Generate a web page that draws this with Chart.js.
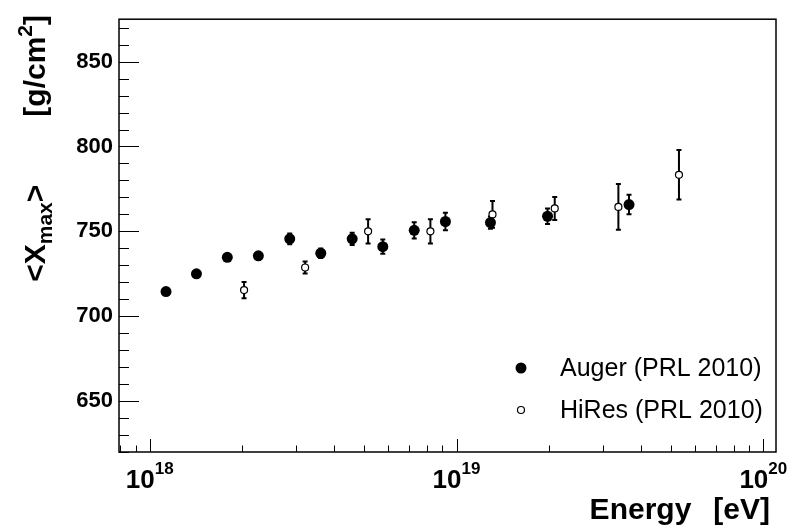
<!DOCTYPE html>
<html><head><meta charset="utf-8">
<script src="https://cdn.jsdelivr.net/npm/chart.js@4/dist/chart.umd.min.js"></script>
<style>html,body{margin:0;padding:0;background:#fff}</style>
</head><body>
<canvas id="c" width="799" height="530" style="display:block"></canvas>
<script>
// ---- data ----
const augerEnergy = [1.13e18, 1.42e18, 1.79e18, 2.26e18, 2.86e18, 3.61e18, 4.57e18, 5.75e18, 7.28e18, 9.2e18, 1.29e19, 1.98e19, 3.65e19];
const augerXmax   = [714.5, 725.0, 734.7, 735.6, 745.6, 737.1, 745.6, 741.0, 750.6, 755.8, 755.2, 758.9, 765.8];
const augerErr    = [1.8, 1.7, 1.8, 2.0, 3.2, 2.8, 3.6, 4.2, 4.8, 5.2, 3.6, 4.5, 5.7];
const hiresEnergy = [2.03e18, 3.21e18, 5.15e18, 8.22e18, 1.31e19, 2.09e19, 3.37e19, 5.31e19];
const hiresXmax   = [715.4, 728.7, 750.0, 750.0, 760.0, 763.5, 764.4, 783.3];
const hiresErr    = [4.8, 3.6, 7.1, 7.1, 7.9, 6.8, 13.5, 14.6];
const xDecadeExponents = [18, 19, 20];
const xMinorMantissas = [2, 3, 4, 5, 6, 7, 8, 9];
const yMajorStep = 50;
const yMinorStep = 10;
const legendLabels = ['Auger (PRL 2010)', 'HiRes (PRL 2010)'];
const xTitle = ['Energy', '[eV]'];
const yTitle = {main: '<X', sub: 'max', close: '>', unit: '[g/cm', sup: '2', unitClose: ']'};

const FONT = '"Liberation Sans", Arial, Helvetica, sans-serif';

function drawErrors(chart, dsIndex, errs) {
  const ctx = chart.ctx, y = chart.scales.y;
  const meta = chart.getDatasetMeta(dsIndex);
  const vals = chart.data.datasets[dsIndex].data;
  ctx.save();
  ctx.strokeStyle = '#000';
  ctx.lineWidth = 2;
  meta.data.forEach((pt, i) => {
    const v = vals[i].y, e = errs[i];
    const top = y.getPixelForValue(v + e), bot = y.getPixelForValue(v - e);
    ctx.beginPath();
    ctx.moveTo(pt.x, top); ctx.lineTo(pt.x, bot);
    ctx.moveTo(pt.x - 2.5, top); ctx.lineTo(pt.x + 2.5, top);
    ctx.moveTo(pt.x - 2.5, bot); ctx.lineTo(pt.x + 2.5, bot);
    ctx.stroke();
  });
  ctx.restore();
}

const rootPlugin = {
  id: 'rootStyle',
  beforeDatasetsDraw(chart) {
    const {ctx, chartArea: a, scales: {x, y}} = chart;
    ctx.save();
    ctx.strokeStyle = '#000';
    ctx.lineWidth = 1;
    // y ticks (inside the frame)
    for (let v = Math.ceil(y.min / yMinorStep) * yMinorStep; v <= y.max; v += yMinorStep) {
      const py = Math.round(y.getPixelForValue(v)) + 0.5;
      const len = (v % yMajorStep === 0) ? 20 : 10;
      ctx.beginPath(); ctx.moveTo(a.left, py); ctx.lineTo(a.left + len, py); ctx.stroke();
    }
    // x ticks (inside the frame)
    const eMin = Math.floor(Math.log10(x.min)), eMax = Math.ceil(Math.log10(x.max));
    for (let e = eMin; e <= eMax; e++) {
      [1].concat(xMinorMantissas).forEach(m => {
        const v = m * Math.pow(10, e);
        if (v < x.min || v > x.max) return;
        const px = Math.round(x.getPixelForValue(v)) + 0.5;
        const len = m === 1 ? 13 : 6.5;
        ctx.beginPath(); ctx.moveTo(px, a.bottom); ctx.lineTo(px, a.bottom - len); ctx.stroke();
      });
    }
    ctx.restore();
    drawErrors(chart, 1, hiresErr);
    drawErrors(chart, 0, augerErr);
  },
  afterDraw(chart) {
    const {ctx, chartArea: a, scales: {x}} = chart;
    ctx.save();
    // frame
    ctx.strokeStyle = '#000';
    ctx.lineWidth = 1.5;
    ctx.strokeRect(a.left, a.top, a.right - a.left, a.bottom - a.top);

    ctx.fillStyle = '#000';
    // x tick labels 10^n
    xDecadeExponents.forEach(e => {
      const px = x.getPixelForValue(Math.pow(10, e));
      ctx.font = 'bold 26px ' + FONT;
      const wBase = ctx.measureText('10').width;
      ctx.font = 'bold 17px ' + FONT;
      const wExp = ctx.measureText(String(e)).width;
      const start = px - (wBase + wExp) / 2;
      ctx.textAlign = 'left'; ctx.textBaseline = 'alphabetic';
      ctx.font = 'bold 26px ' + FONT;
      ctx.fillText('10', start, 488);
      ctx.font = 'bold 17px ' + FONT;
      ctx.fillText(String(e), start + wBase, 474);
    });

    // x title
    ctx.font = 'bold 30px ' + FONT;
    ctx.textAlign = 'right';
    ctx.fillText(xTitle[1], 770, 519);
    const wUnit = ctx.measureText(xTitle[1]).width;
    ctx.fillText(xTitle[0], 770 - wUnit - 22, 519);

    // y title (rotated)
    ctx.save();
    ctx.translate(45, 15);
    ctx.rotate(-Math.PI / 2);
    ctx.textAlign = 'left';
    const big = 'bold 30px ' + FONT, small = 'bold 21px ' + FONT;
    const pieces = [
      [yTitle.main, big, 0], [yTitle.sub, small, 7], [yTitle.close, big, 0],
      ['GAP', null, 0],
      [yTitle.unit, big, 0], [yTitle.sup, small, -13], [yTitle.unitClose, big, 0]
    ];
    const gap = 68;
    let total = 0;
    pieces.forEach(p => { if (p[1]) { ctx.font = p[1]; p.push(ctx.measureText(p[0]).width); } else p.push(gap); total += p[3]; });
    let cx = -total;
    pieces.forEach(p => {
      if (p[1]) { ctx.font = p[1]; ctx.fillText(p[0], cx, p[2]); }
      cx += p[3];
    });
    ctx.restore();

    // legend
    const lx = 521, ly = [368, 410];
    ctx.beginPath(); ctx.arc(lx, ly[0], 5.5, 0, Math.PI * 2); ctx.fillStyle = '#000'; ctx.fill();
    ctx.beginPath(); ctx.arc(lx, ly[1], 3.5, 0, Math.PI * 2); ctx.fillStyle = '#fff'; ctx.fill();
    ctx.lineWidth = 1.2; ctx.strokeStyle = '#000'; ctx.stroke();
    ctx.fillStyle = '#000';
    ctx.font = '25px ' + FONT;
    ctx.textAlign = 'left'; ctx.textBaseline = 'middle';
    ctx.fillText(legendLabels[0], 560, ly[0] + 1);
    ctx.fillText(legendLabels[1], 560, ly[1] + 1);
    ctx.restore();
  }
};

const augerPts = augerEnergy.map((e, i) => ({x: e, y: augerXmax[i]}));
const hiresPts = hiresEnergy.map((e, i) => ({x: e, y: hiresXmax[i]}));

new Chart(document.getElementById('c'), {
  type: 'scatter',
  data: {
    datasets: [
      {label: legendLabels[0], data: augerPts, pointRadius: 5.5, pointHoverRadius: 5.5,
       backgroundColor: '#000', borderColor: '#000', borderWidth: 0},
      {label: legendLabels[1], data: hiresPts, pointRadius: 3.5, pointHoverRadius: 3.5,
       backgroundColor: '#fff', borderColor: '#000', borderWidth: 1.2}
    ]
  },
  options: {
    responsive: false,
    animation: false,
    events: [],
    layout: {padding: {left: 0, right: 23, top: 10, bottom: 0}},
    plugins: {legend: {display: false}, tooltip: {enabled: false}},
    scales: {
      x: {
        type: 'logarithmic', min: 7.94e17, max: 1.1e20,
        grid: {display: false, drawTicks: false}, border: {display: false},
        ticks: {display: false},
        afterFit(s) { s.height = 78; }
      },
      y: {
        type: 'linear', min: 620, max: 875,
        grid: {display: false, drawTicks: false}, border: {display: false},
        ticks: {
          stepSize: yMinorStep, autoSkip: false, padding: 6, color: '#000',
          font: {family: FONT, size: 22, weight: 'bold'},
          callback: v => (v % yMajorStep === 0 ? String(v) : '')
        },
        afterFit(s) { s.width = 119; }
      }
    }
  },
  plugins: [rootPlugin]
});
</script>
</body></html>
